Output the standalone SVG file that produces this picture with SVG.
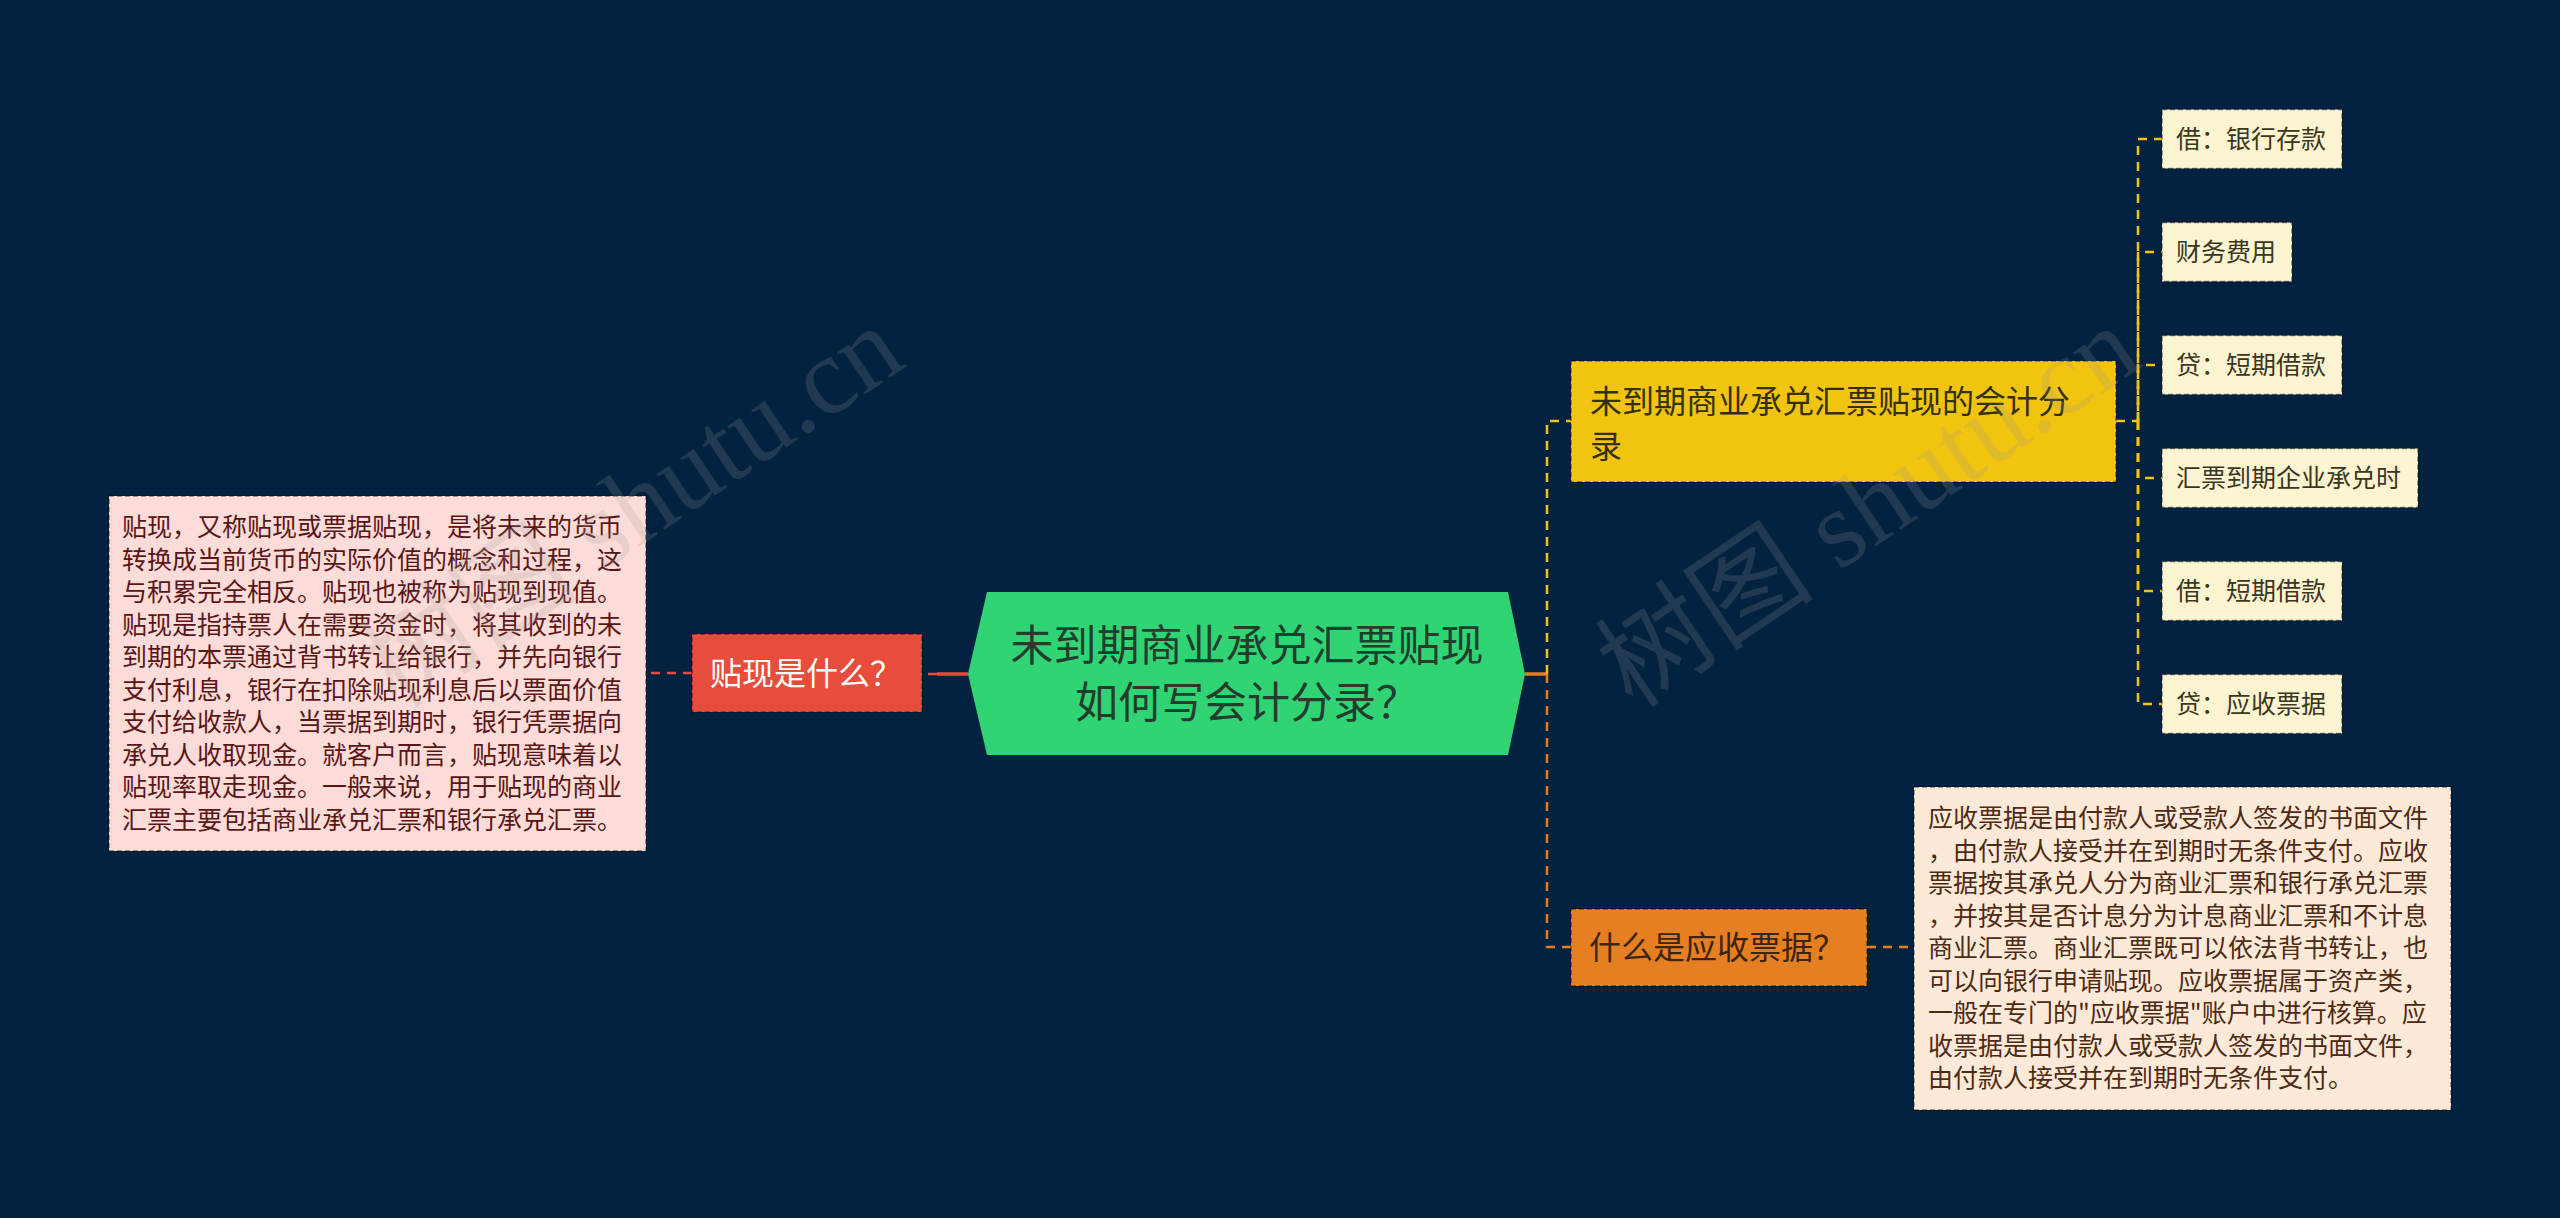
<svg xmlns="http://www.w3.org/2000/svg" width="2560" height="1218" viewBox="0 0 2560 1218">
<style>
.t{font-family:"Noto Sans CJK SC","Noto Sans",sans-serif}
.nb{stroke:#000;stroke-opacity:0.45;stroke-width:1.5;stroke-dasharray:5 3}
.dash{fill:none;stroke-width:2.5;stroke-dasharray:9 7}
.solid{fill:none;stroke-width:3.5}
.y{stroke:#f1c40f}.o{stroke:#e67e22}.r{stroke:#e74c3c}
.leaf rect{fill:#fdf4d2}
.leaf text{font-size:25px;fill:#3b3620}
.wm{font-family:"Liberation Serif","Noto Sans CJK SC",serif;font-size:110px;fill:#9a9a9a;fill-opacity:0.2}
</style>
<rect width="2560" height="1218" fill="#03223f"/>
<g id="connectors">
<path class="solid r" d="M968 674 H937"/>
<path class="dash r" d="M937 674 H922"/>
<path class="dash r" d="M692 673 H646"/>
<path class="solid o" d="M1525 674 H1547"/>
<path class="dash y" d="M1547 674 V421 H1571"/>
<path class="dash o" d="M1547 674 V947 H1571"/>
<path class="dash o" d="M1867 947 H1914"/>
<path class="dash y" d="M2116 421 H2138 V139 H2162"/>
<path class="dash y" d="M2138 421 V252 H2162"/>
<path class="dash y" d="M2138 421 V365 H2162"/>
<path class="dash y" d="M2138 421 V478 H2162"/>
<path class="dash y" d="M2138 421 V591 H2162"/>
<path class="dash y" d="M2138 421 V704 H2162"/>
</g>
<g id="root">
<polygon points="968,674 987,592 1508,592 1525,674 1508,755 987,755" fill="#31d475"/>
<text class="t" x="1247" y="661" font-size="43" fill="#233d2c" text-anchor="middle">未到期商业承兑汇票贴现</text>
<text class="t" x="1247" y="718" font-size="43" fill="#233d2c" text-anchor="middle">如何写会计分录？</text>
</g>
<g id="n-what-discount">
<rect class="nb" x="692" y="634" width="230" height="78" fill="#e74c3c"/>
<text class="t" x="710" y="685" font-size="32" fill="#ffffff">贴现是什么？</text>
</g>
<g id="n-discount-desc">
<rect class="nb" x="109" y="496" width="537" height="355" fill="#fcdcd8"/>
<text class="t" font-size="25" fill="#5a1616">
<tspan x="122" y="536">贴现，又称贴现或票据贴现，是将未来的货币</tspan>
<tspan x="122" y="568.5">转换成当前货币的实际价值的概念和过程，这</tspan>
<tspan x="122" y="601">与积累完全相反。贴现也被称为贴现到现值。</tspan>
<tspan x="122" y="633.5">贴现是指持票人在需要资金时，将其收到的未</tspan>
<tspan x="122" y="666">到期的本票通过背书转让给银行，并先向银行</tspan>
<tspan x="122" y="698.5">支付利息，银行在扣除贴现利息后以票面价值</tspan>
<tspan x="122" y="731">支付给收款人，当票据到期时，银行凭票据向</tspan>
<tspan x="122" y="763.5">承兑人收取现金。就客户而言，贴现意味着以</tspan>
<tspan x="122" y="796">贴现率取走现金。一般来说，用于贴现的商业</tspan>
<tspan x="122" y="828.5">汇票主要包括商业承兑汇票和银行承兑汇票。</tspan>
</text>
</g>
<g id="n-entries">
<rect class="nb" x="1571" y="361" width="545" height="121" fill="#f1c40f"/>
<text class="t" font-size="32" fill="#33300a">
<tspan x="1590" y="413">未到期商业承兑汇票贴现的会计分</tspan>
<tspan x="1590" y="458">录</tspan>
</text>
</g>
<g id="leaf1" class="leaf"><rect class="nb" x="2162" y="109.5" width="180" height="59"/><text class="t" x="2176" y="148">借：银行存款</text></g>
<g id="leaf2" class="leaf"><rect class="nb" x="2162" y="222.5" width="130" height="59"/><text class="t" x="2176" y="261">财务费用</text></g>
<g id="leaf3" class="leaf"><rect class="nb" x="2162" y="335.5" width="180" height="59"/><text class="t" x="2176" y="374">贷：短期借款</text></g>
<g id="leaf4" class="leaf"><rect class="nb" x="2162" y="448.5" width="256" height="59"/><text class="t" x="2176" y="487">汇票到期企业承兑时</text></g>
<g id="leaf5" class="leaf"><rect class="nb" x="2162" y="561.5" width="180" height="59"/><text class="t" x="2176" y="600">借：短期借款</text></g>
<g id="leaf6" class="leaf"><rect class="nb" x="2162" y="674.5" width="180" height="59"/><text class="t" x="2176" y="713">贷：应收票据</text></g>
<g id="n-receivable">
<rect class="nb" x="1571" y="909" width="296" height="77" fill="#e67e22"/>
<text class="t" x="1589" y="959" font-size="32" fill="#3b2410">什么是应收票据？</text>
</g>
<g id="n-receivable-desc">
<rect class="nb" x="1914" y="787" width="537" height="323" fill="#fde9d8"/>
<text class="t" font-size="25" fill="#4d2a14">
<tspan x="1928" y="827">应收票据是由付款人或受款人签发的书面文件</tspan>
<tspan x="1928" y="859.5">，由付款人接受并在到期时无条件支付。应收</tspan>
<tspan x="1928" y="892">票据按其承兑人分为商业汇票和银行承兑汇票</tspan>
<tspan x="1928" y="924.5">，并按其是否计息分为计息商业汇票和不计息</tspan>
<tspan x="1928" y="957">商业汇票。商业汇票既可以依法背书转让，也</tspan>
<tspan x="1928" y="989.5">可以向银行申请贴现。应收票据属于资产类，</tspan>
<tspan x="1928" y="1022">一般在专门的"应收票据"账户中进行核算。应</tspan>
<tspan x="1928" y="1054.5">收票据是由付款人或受款人签发的书面文件，</tspan>
<tspan x="1928" y="1087">由付款人接受并在到期时无条件支付。</tspan>
</text>
</g>
<g id="watermarks">
<text class="wm" transform="translate(397,710) rotate(-34)">树图 shutu.cn</text>
<text class="wm" transform="translate(1633,710) rotate(-34)">树图 shutu.cn</text>
</g>
</svg>
